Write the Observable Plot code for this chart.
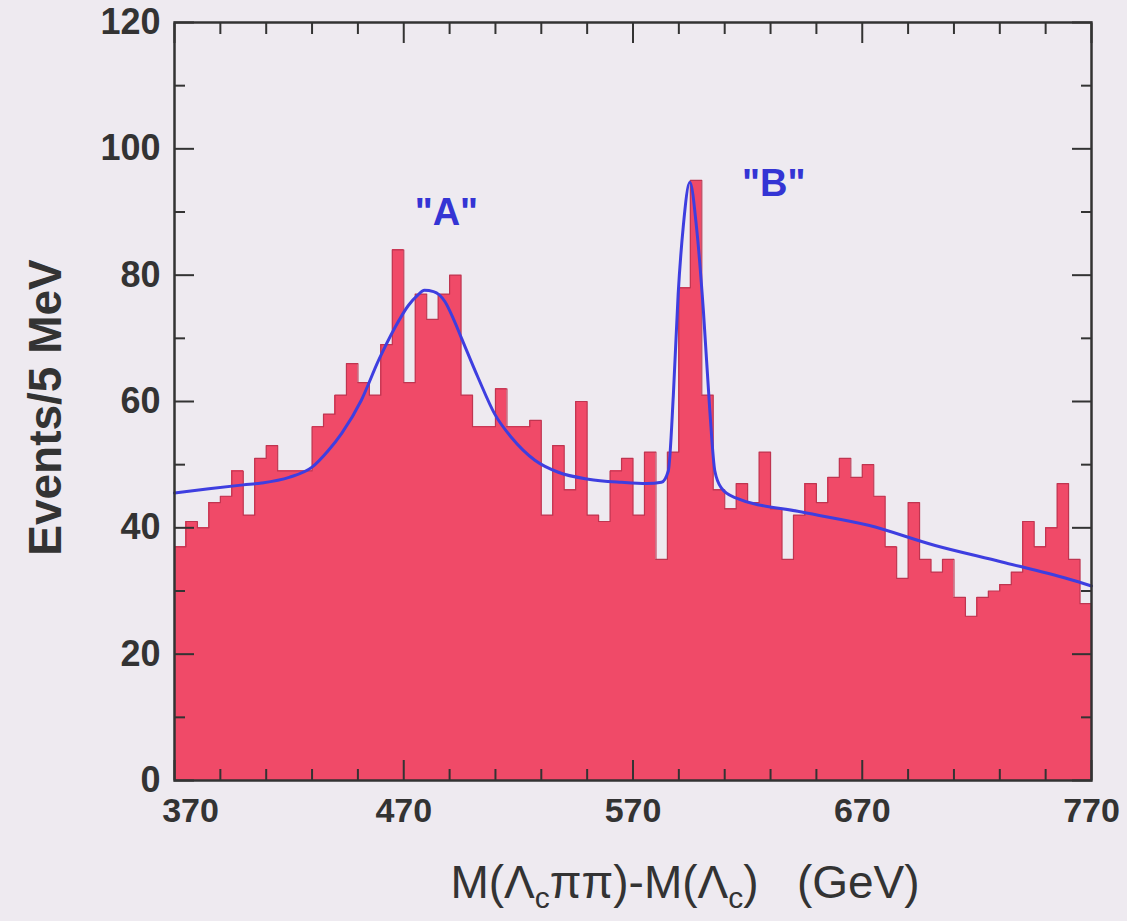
<!DOCTYPE html>
<html><head><meta charset="utf-8">
<script src="https://cdn.jsdelivr.net/npm/d3@7"></script>
<script src="https://cdn.jsdelivr.net/npm/@observablehq/plot@0.6"></script>
<style>
html,body{margin:0;padding:0;background:#eeeaf0;}
#chart{width:1127px;height:921px;overflow:hidden;}
</style></head><body><div id="chart"></div>
<script>
// Histogram: 5 MeV bins from 370 to 770
const binStart = 370;
const binWidth = 5;
const counts = [
  37, 41, 40, 44, 45, 49, 42, 51, 53, 49,
  49, 49, 56, 58, 61, 66, 63, 61, 69, 84,
  63, 77, 73, 77, 80, 61, 56, 56, 62, 56,
  56, 57, 42, 53, 46, 60, 42, 41, 49, 51,
  42, 52, 35, 52, 78, 95, 61, 46, 43, 47,
  44, 52, 43, 35, 42, 47, 44, 48, 51, 48,
  50, 45, 37, 32, 44, 35, 33, 35, 29, 26,
  29, 30, 31, 33, 41, 37, 40, 47, 35, 28
];
// Fit curve
const fitX = [370, 385, 400, 408, 420, 430, 437, 443, 451.5, 459,
  466, 472, 476, 479, 483, 488, 492, 495, 502.4, 509.7,
  517, 527.2, 537.4, 550.5, 565, 576, 582.4, 585.4, 587.6, 589.7,
  591.9, 594.8, 597.7, 600.7, 603.5, 605.7, 608.6, 614.5, 643.6, 672.7,
  701.8, 730.9, 760, 770];
const fitY = [45.5, 46.2, 46.8, 47.1, 48.0, 49.6, 52.2, 55.0, 60.2, 66.5,
  71.6, 75.2, 76.8, 77.6, 77.4, 75.8, 72.8, 70.2, 63.8, 58.0,
  54.3, 50.7, 48.8, 47.7, 47.2, 47.0, 47.2, 49, 61, 77,
  87.6, 94.7, 87.6, 74.4, 58.6, 49, 46.3, 44.8, 42.5, 40.4,
  37.2, 34.6, 31.9, 30.8];
const yMajor = [0, 20, 40, 60, 80, 100, 120];
const yMinor = [10, 30, 50, 70, 90, 110];
const xMajor = [370, 470, 570, 670, 770];
const xMinor = [390, 410, 430, 450, 490, 510, 530, 550, 590, 610, 630, 650, 690, 710, 730, 750];
const peakText = ['"A"', '"B"'];
const peakX = [488.6, 631.4];
const peakY = [89.8, 94.5];
const yTitle = "Events/5 MeV";

const bins = counts.map((c, i) => ({x1: binStart + i * binWidth, x2: binStart + (i + 1) * binWidth, y: c}));
const outline = bins.map(b => ({x: b.x1, y: b.y})).concat([{x: bins[bins.length - 1].x2, y: counts[counts.length - 1]}]);
const fit = fitX.map((x, i) => ({x, y: fitY[i]}));
const peaks = peakText.map((t, i) => ({t, x: peakX[i], y: peakY[i]}));

const ink = "#333";
const noText = () => "";
const tickOpts = (anchor, size) => ({anchor, tickSize: size, tickFormat: noText, label: null, stroke: ink, strokeWidth: 2});
const xLabelOpts = {anchor: "bottom", tickSize: 0, tickPadding: 17, fontSize: 34, fontWeight: "bold", fill: ink, label: null};

const plot = Plot.plot({
  width: 1127, height: 921,
  marginLeft: 174, marginRight: 36, marginTop: 22, marginBottom: 141,
  style: {background: "#eeeaf0", fontFamily: "'Liberation Sans', Arial, sans-serif", overflow: "visible"},
  x: {domain: [370, 770]},
  y: {domain: [0, 120]},
  marks: [
    Plot.rectY(bins, {x1: "x1", x2: "x2", y: "y", fill: "#f04a68", shapeRendering: "crispEdges"}),
    Plot.lineY(outline, {x: "x", y: "y", curve: "step-after", stroke: "#bf3550", strokeWidth: 1.2}),
    Plot.lineY(fit, {x: "x", y: "y", curve: "monotone-x", stroke: "#3e3ee0", strokeWidth: 3}),
    Plot.axisY(yMajor, tickOpts("left", -20)),
    Plot.axisY(yMinor, tickOpts("left", -11)),
    Plot.axisY(yMajor, tickOpts("right", -20)),
    Plot.axisY(yMinor, tickOpts("right", -11)),
    Plot.axisX(xMajor, tickOpts("bottom", -20)),
    Plot.axisX(xMinor, tickOpts("bottom", -11)),
    Plot.axisX(xMajor, tickOpts("top", -20)),
    Plot.axisX(xMinor, tickOpts("top", -11)),
    Plot.axisY(yMajor, {anchor: "left", tickSize: 0, tickPadding: 14, fontSize: 36, fontWeight: "bold", fill: ink, label: null}),
    Plot.axisX(xMajor.slice(0, 1), {...xLabelOpts, dx: 16}),
    Plot.axisX(xMajor.slice(1), xLabelOpts),
    Plot.frame({stroke: ink, strokeWidth: 2.5}),
    Plot.text(peaks, {x: "x", y: "y", text: "t", fill: "#3434d4", fontSize: 38, fontWeight: "bold"}),
    Plot.text([yTitle], {frameAnchor: "left", text: d => d, rotate: -90, textAnchor: "middle", dx: -128, dy: 6, fontSize: 46, fontWeight: "bold", fill: ink})
  ]
});
document.getElementById("chart").appendChild(plot);

// x-axis title with subscripts
const svg = d3.select(plot);
const t = svg.append("text")
  .attr("x", 685).attr("y", 898)
  .attr("text-anchor", "middle")
  .attr("fill", ink)
  .style("font-family", "'Liberation Sans', Arial, sans-serif")
  .style("font-size", "46px")
  .style("white-space", "pre");
const parts = [["M(Λ", 0], ["c", 1], ["ππ)-M(Λ", 0], ["c", 1], [")   (GeV)", 0]];
let shifted = false;
for (const [s, sub] of parts) {
  const ts = t.append("tspan").text(s);
  if (sub) { ts.attr("dy", 10).style("font-size", "30px"); shifted = true; }
  else if (shifted) { ts.attr("dy", -10); shifted = false; }
}
</script>
</body></html>
